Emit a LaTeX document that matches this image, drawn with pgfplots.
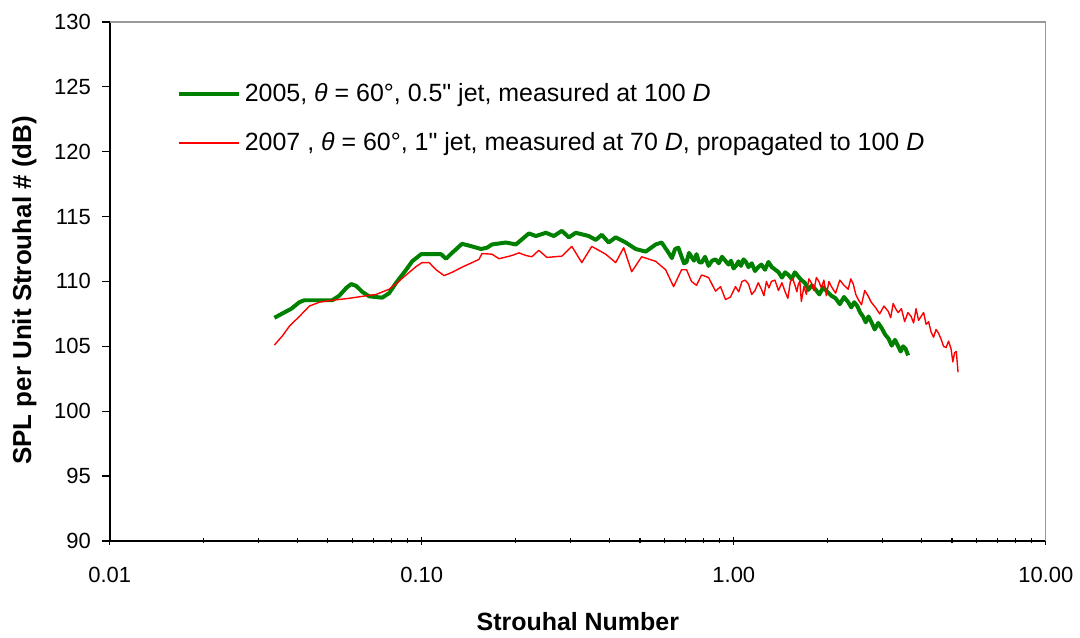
\documentclass[border=0pt]{standalone}
\usepackage{fontspec}
\setmainfont{Liberation Sans}[Ligatures=TeXOff]
\usepackage{pgfplots}
\usepackage{pgfplotstable}
\pgfplotsset{compat=1.18}
\definecolor{xlgreen}{RGB}{0,128,0}
\definecolor{xlred}{RGB}{255,0,0}

\pgfplotstableread{
St dB
0.03371 107.2
0.03820 107.9
0.04052 108.4
0.04204 108.55
0.05167 108.55
0.05440 108.9
0.05728 109.5
0.05943 109.8
0.06165 109.65
0.06444 109.2
0.06785 108.85
0.07467 108.75
0.07861 109.1
0.08277 109.9
0.08911 110.9
0.09313 111.55
0.09951 112.1
0.1153 112.1
0.1196 111.75
0.1250 112.2
0.1346 112.9
0.1449 112.7
0.1548 112.5
0.1618 112.6
0.1679 112.85
0.1861 113.0
0.2003 112.85
0.2204 113.7
0.2321 113.5
0.2499 113.75
0.2650 113.5
0.2811 113.9
0.2960 113.4
0.3116 113.75
0.3429 113.5
0.3611 113.2
0.3774 113.6
0.3973 113.0
0.4183 113.4
0.4504 113.0
0.4847 112.5
0.5219 112.3
0.5617 112.85
0.5871 113.0
0.6181 112.2
0.6331 111.8
0.6484 112.5
0.6641 112.6
0.6801 111.9
0.6927 111.4
0.7055 111.5
0.7185 112.2
0.7318 111.9
0.7455 111.6
0.7594 112.1
0.7736 111.5
0.7881 111.45
0.8087 111.9
0.8299 111.2
0.8516 111.6
0.8738 111.7
0.8950 111.4
0.9166 111.9
0.9388 111.6
0.9615 111.3
0.9794 111.6
0.9976 111.0
1.0161 111.2
1.035 111.55
1.0543 111.2
1.074 111.7
1.0938 111.5
1.114 111.1
1.1412 111.4
1.169 110.8
1.1972 111.1
1.226 111.3
1.2581 110.9
1.291 111.5
1.3246 111.1
1.359 110.9
1.3921 110.7
1.426 110.3
1.4606 110.7
1.496 110.5
1.5321 110.2
1.569 110.7
1.6070 110.4
1.646 110.1
1.6889 109.9
1.733 109.35
1.7784 109.7
1.825 109.4
1.8797 109.0
1.936 109.55
1.9941 109.2
2.054 108.9
2.1190 108.7
2.186 108.25
2.2549 108.8
2.326 108.4
2.3784 108.0
2.432 108.4
2.4864 108.1
2.542 107.6
2.5940 107.3
2.647 106.85
2.7009 107.3
2.756 106.9
2.8281 106.3
2.902 106.8
2.9780 106.4
3.056 105.9
3.1301 105.6
3.206 105.05
3.2836 105.5
3.363 105.0
3.4254 104.6
3.489 105.0
3.5534 104.8
3.619 104.3
}\greentab

\pgfplotstableread{
St dB
0.03371 105.1
0.03575 105.8
0.03764 106.55
0.04052 107.3
0.04362 108.1
0.04696 108.4
0.05167 108.55
0.05856 108.7
0.06444 108.85
0.07144 109.0
0.07861 109.4
0.08338 109.9
0.08911 110.5
0.09591 111.15
0.1002 111.45
0.1056 111.45
0.1111 110.9
0.1179 110.45
0.1250 110.7
0.1346 111.1
0.1449 111.45
0.1525 111.7
0.1559 112.15
0.1679 112.1
0.1768 111.75
0.1945 112.0
0.2048 112.2
0.2156 112.0
0.2253 111.9
0.2372 112.4
0.2517 111.85
0.2811 111.95
0.3026 112.7
0.3257 111.45
0.3506 112.7
0.3886 112.1
0.4183 111.45
0.4437 112.6
0.4706 110.75
0.5067 111.9
0.5617 111.55
0.6046 110.9
0.6413 109.6
0.6801 110.9
0.7055 110.9
0.7318 110.0
0.7594 109.7
0.7881 110.5
0.8299 110.3
0.8738 109.25
0.9065 109.6
0.9405 108.6
0.9756 108.8
1.012 109.6
1.0367 109.2
1.062 110.0
1.0877 110.1
1.114 109.8
1.1412 109.0
1.169 109.3
1.1972 109.9
1.226 109.4
1.2488 108.9
1.272 110.0
1.2958 109.5
1.320 110.0
1.3546 110.1
1.390 109.3
1.4260 109.9
1.463 109.15
1.4903 108.7
1.518 110.0
1.5462 110.2
1.575 109.6
1.5924 109.2
1.610 109.8
1.6279 110.0
1.646 108.45
1.6767 109.6
1.708 109.0
1.7397 110.2
1.772 109.9
1.8052 109.3
1.839 110.3
1.8732 110.0
1.908 109.5
1.9437 110.1
1.980 108.9
2.0167 110.0
2.054 109.6
2.1190 109.1
2.186 110.1
2.2549 109.7
2.326 109.4
2.3696 110.2
2.414 109.8
2.4591 109.0
2.505 108.6
2.5653 108.2
2.627 109.3
2.6907 108.9
2.756 108.4
2.8436 108.0
2.934 107.5
3.0275 108.1
3.124 107.7
3.1820 107.2
3.241 108.3
3.3014 107.9
3.363 107.6
3.4445 107.9
3.528 106.9
3.6130 107.6
3.700 107.3
3.7684 106.8
3.838 107.9
3.9093 107.0
3.982 107.3
4.0563 107.6
4.132 106.7
4.2088 106.9
4.287 106.1
4.3668 105.7
4.448 106.3
4.5308 106.0
4.615 105.55
4.7007 105.0
4.788 104.9
4.8772 105.4
4.968 104.8
5.0326 103.8
5.098 104.5
5.1641 104.6
5.231 103.0
}\redtab

\begin{document}
\begin{tikzpicture}
\begin{axis}[
  scale only axis, width=469pt, height=260pt,
  xmode=log, xmin=0.01, xmax=10, ymin=90, ymax=130,
  xtick={0.01,0.1,1,10}, xticklabels={0.01,0.10,1.00,10.00},
  ytick={90,95,...,130},
  axis x line*=bottom, axis y line*=left,
  axis line style={black, line width=0.75pt},
  tick style={black, line width=0.6pt},
  major tick length=4pt, minor tick length=2.5pt,
  xtick align=center, ytick align=outside,
  /pgf/number format/assume math mode=true,
  tick label style={font=\fontsize{11}{13}\selectfont},
  xticklabel style={yshift=-7.5pt},
  yticklabel style={xshift=-2pt},
  xlabel={\bfseries Strouhal Number},
  ylabel={\bfseries SPL per Unit Strouhal \# (dB)},
  xlabel style={font=\fontsize{12.5}{14}\selectfont, yshift=-8pt},
  ylabel style={font=\fontsize{13}{15}\selectfont, yshift=2pt, xshift=-4.5pt},
  legend style={at={(0.065,0.898)}, anchor=north west, draw=none, fill=none,
    font=\fontsize{12.5}{14}\selectfont, row sep=10pt},
  legend cell align=left,
  legend image code/.code={\draw[#1] (0pt,0pt) -- (30pt,0pt);},
  clip=false,
]
\addplot[xlgreen, line width=2pt, line join=round] table[x=St, y=dB] {\greentab};
\addlegendentry{2005, \textit{θ} = 60°, 0.5" jet, measured at 100 \textit{D}}
\addplot[xlred, line width=0.7pt, line join=round] table[x=St, y=dB] {\redtab};
\addlegendentry{2007 , \textit{θ} = 60°, 1" jet, measured at 70 \textit{D}, propagated to 100 \textit{D}}
\draw[gray!80, line width=0.6pt] (rel axis cs:0,1) -- (rel axis cs:1,1) -- (rel axis cs:1,0);
\coordinate (bbsw) at (rel axis cs:-0.11727,-0.175);
\coordinate (bbne) at (rel axis cs:1.03412,1.04231);
\end{axis}
\path (bbsw) rectangle (bbne);
\end{tikzpicture}
\end{document}
